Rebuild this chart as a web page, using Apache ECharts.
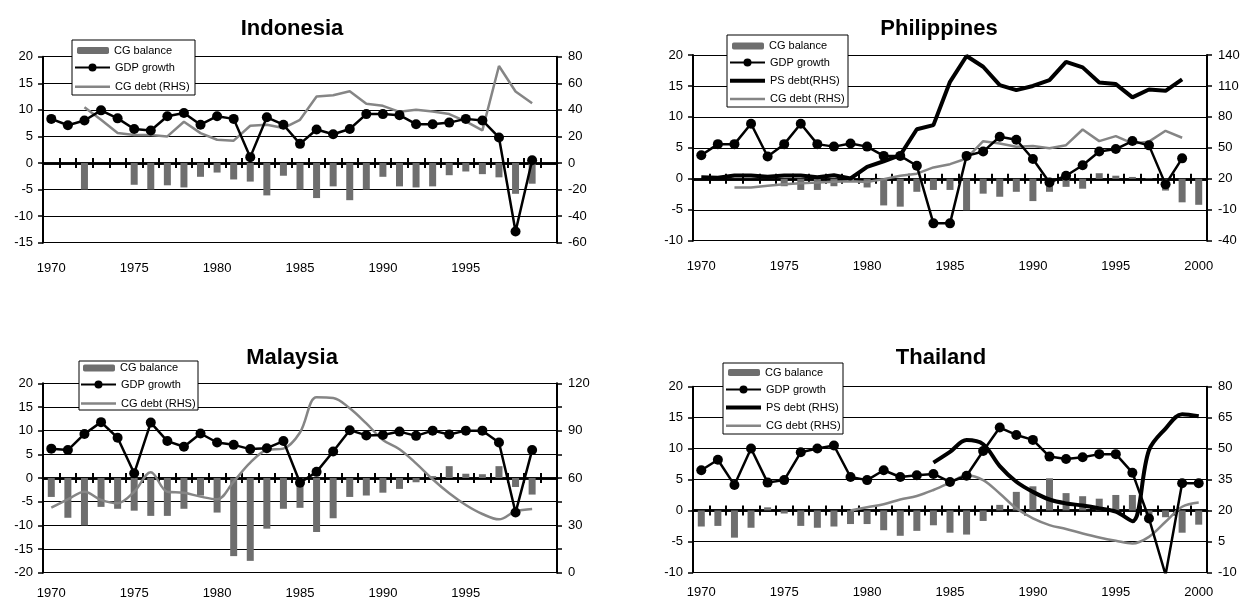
<!DOCTYPE html>
<html>
<head>
<meta charset="utf-8">
<script src="https://cdn.jsdelivr.net/npm/echarts@6/dist/echarts.min.js"></script>
<style>
  html, body { margin: 0; padding: 0; background: #fff; }
  #chart { width: 1243px; height: 600px; }
</style>
</head>
<body>
<div id="chart"></div>
<script>
// Years on the category axis
const years = ['1970','1971','1972','1973','1974','1975','1976','1977','1978','1979',
               '1980','1981','1982','1983','1984','1985','1986','1987','1988','1989',
               '1990','1991','1992','1993','1994','1995','1996','1997','1998','1999','2000'];

// Indonesia (% of GDP / % growth)
const idnBalance = [null,null,-5.0,null,null, -4.1,-5.0,-4.2,-4.6,-2.6, -1.8,-3.1,-3.5,-6.1,-2.4,
                    -5.0,-6.6,-4.4,-7.0,-5.0, -2.6,-4.4,-4.6,-4.4,-2.3, -1.6,-2.1,-2.7,-5.8,-3.9, null];
const idnGdp     = [8.3,7.1,8.0,9.9,8.4, 6.4,6.1,8.8,9.4,7.2, 8.8,8.3,1.1,8.6,7.2,
                    3.6,6.3,5.4,6.4,9.2, 9.2,9.0,7.3,7.3,7.6, 8.3,8.0,4.8,-12.9,0.5, null];
const idnCgDebt  = [null,null,42,32.5,22.5, 21,21,20,31,22.5, 17.5,16.8,28,28.8,26.3,
                    32.5,50,51,54,44.5, 43,38.5,40,38.8,36.8, 31.3,24.5,73,53.8,45, null];

// Philippines
const phlBalance = [null,null,null,null,null, -1.2,-1.8,-1.8,-1.2,-0.5, -1.4,-4.3,-4.5,-2.1,-1.8,
                    -1.8,-5.1,-2.4,-2.9,-2.1, -3.6,-2.1,-1.3,-1.6,0.9, 0.5,0.3,0.1,-1.9,-3.8, -4.2];
const phlGdp     = [3.8,5.6,5.6,8.9,3.6, 5.6,8.9,5.6,5.2,5.7, 5.2,3.7,3.7,2.1,-7.2,
                    -7.2,3.7,4.4,6.8,6.3, 3.2,-0.6,0.5,2.2,4.4, 4.8,6.1,5.4,-0.9,3.3, null];
const phlPsDebt  = [21.6,21,23.2,23.2,22, 23.2,23.2,21.6,23.5,20.3, 31.6,37,43,68,72,
                    114,139,128.6,110.8,106, 110,115.7,133.4,128,113.4, 111.8,98.9,106.6,105.3,116.3, null];
const phlCgDebt  = [null,null,11.6,11.6,13.2, 14.8,15.8,16.4,17.1,17.7, 17,19.7,23,25,31,
                    34.2,39.7,56.5,54.3,51, 51.7,49.7,52.6,67.8,56.5, 61.4,54.3,56,66.5,59.8, null];

// Malaysia
const mysBalance = [-4.0,-8.4,-10.0,-6.1,-6.5, -6.9,-8.0,-8.0,-6.5,-3.7, -7.3,-16.5,-17.5,-10.7,-6.5,
                    -6.3,-11.4,-8.5,-4.0,-3.7, -3.1,-2.3,-0.9,0.4,2.5, 0.9,0.8,2.5,-1.9,-3.5, null];
const mysGdp     = [6.2,5.9,9.3,11.8,8.5, 1.0,11.7,7.8,6.6,9.4, 7.5,7.0,6.1,6.3,7.8,
                    -1.0,1.3,5.6,10.1,9.0, 9.1,9.8,8.9,10.0,9.2, 10.0,10.0,7.5,-7.3,5.9, null];
const mysCgDebt  = [41.2,46.5,51.3,46.1,44, 51.3,63.6,51.3,50.7,48.2, 46.5,57.7,69.7,77.7,78.6,
                    88.8,111.1,110.7,104.2,94.6, 84.1,78.2,69.3,59.2,50.3, 42.9,37.2,33.8,38.9,40.4, null];

// Thailand
const thaBalance = [-2.6,-2.5,-4.4,-2.8,0.5, -0.5,-2.5,-2.8,-2.6,-2.2, -2.2,-3.2,-4.1,-3.3,-2.4,
                    -3.6,-3.9,-1.7,0.9,3.0, 3.9,5.2,2.8,2.3,1.9, 2.5,2.5,-0.9,-1.1,-3.6, -2.3];
const thaGdp     = [6.5,8.2,4.1,10.0,4.5, 4.9,9.4,10.0,10.5,5.4, 4.9,6.5,5.4,5.7,5.9,
                    4.6,5.6,9.6,13.4,12.2, 11.4,8.7,8.3,8.6,9.1, 9.1,6.1,-1.3,-10.4,4.4, 4.4];
const thaPsDebt  = [null,null,null,null,null, null,null,null,null,null, null,null,null,null,43.2,
                    48.4,54.1,52.1,41.5,33.9, 29.0,25.3,23.4,22.4,21, 19.4,14.8,49.2,59.7,66.7, 65.7];
const thaCgDebt  = [null,null,null,null,null, null,null,null,null,20, 21.5,23,25.3,27,29.9,
                    33.4,37.1,34.7,28.2,21, 16.1,12.9,11,8.85,6.9, 5.3,4.0,7.2,14.5,21.8, 23.9];

const FONT = '"Liberation Sans", Arial, Helvetica, sans-serif';
const BAR_GRAY = '#6e6e6e';
const LINE_GRAY = '#858585';

// Plain line legend icons (no marker); the zero-length moves pin the icon box height
const ICON_THICK = 'path://M0,0L0,0M0,10L0,10M0,3L35,3L35,7L0,7Z';
const ICON_THIN  = 'path://M0,0L0,0M0,10L0,10M0,3.75L35,3.75L35,6.25L0,6.25Z';

const panels = [
  {
    title: 'Indonesia', titleX: 292, titleY: 18,
    grid: { left: 43, top: 56.7, width: 514, height: 186 },
    leftAxis: { min: -15, max: 20, interval: 5 },
    rightAxis: { min: -60, max: 80, interval: 20, step: 20 },
    showLastLabel: false, labelMargin: 19,
    box: [72, 40, 123, 55], legendLeft: 74, barTop: 45, lineTop: 62, lineGap: 8.2,
    series: [
      { name: 'CG balance', kind: 'bar', data: idnBalance },
      { name: 'GDP growth', kind: 'gdp', data: idnGdp },
      { name: 'CG debt (RHS)', kind: 'cg', data: idnCgDebt, smooth: false }
    ]
  },
  {
    title: 'Philippines', titleX: 939, titleY: 18,
    grid: { left: 693, top: 55, width: 514, height: 185.7 },
    leftAxis: { min: -10, max: 20, interval: 5 },
    rightAxis: { min: -40, max: 140, interval: 30, step: 30 },
    showLastLabel: true, labelMargin: 19,
    box: [727, 35, 121, 72], legendLeft: 729, barTop: 40.5, lineTop: 57, lineGap: 7.3,
    series: [
      { name: 'CG balance', kind: 'bar', data: phlBalance },
      { name: 'GDP growth', kind: 'gdp', data: phlGdp },
      { name: 'PS debt(RHS)', kind: 'ps', data: phlPsDebt, smooth: false },
      { name: 'CG debt (RHS)', kind: 'cg', data: phlCgDebt, smooth: false }
    ]
  },
  {
    title: 'Malaysia', titleX: 292, titleY: 347,
    grid: { left: 43, top: 383.3, width: 514, height: 189.4 },
    leftAxis: { min: -20, max: 20, interval: 5 },
    rightAxis: { min: 0, max: 120, interval: 15, step: 30 },
    showLastLabel: false, labelMargin: 14,
    box: [79, 361, 119, 49], legendLeft: 80, barTop: 362.5, lineTop: 379, lineGap: 8.1,
    series: [
      { name: 'CG balance', kind: 'bar', data: mysBalance },
      { name: 'GDP growth', kind: 'gdp', data: mysGdp },
      { name: 'CG debt (RHS)', kind: 'cg', data: mysCgDebt, smooth: 0.35 }
    ]
  },
  {
    title: 'Thailand', titleX: 941, titleY: 347,
    grid: { left: 693, top: 386.7, width: 514, height: 185.6 },
    leftAxis: { min: -10, max: 20, interval: 5 },
    rightAxis: { min: -10, max: 80, interval: 15, step: 15 },
    showLastLabel: true, labelMargin: 14,
    box: [723, 363, 120, 71], legendLeft: 725, barTop: 367, lineTop: 384, lineGap: 7.1,
    series: [
      { name: 'CG balance', kind: 'bar', data: thaBalance },
      { name: 'GDP growth', kind: 'gdp', data: thaGdp },
      { name: 'PS debt (RHS)', kind: 'ps', data: thaPsDebt, smooth: 0.35 },
      { name: 'CG debt (RHS)', kind: 'cg', data: thaCgDebt, smooth: 0.35 }
    ]
  }
];

const option = {
  animation: false,
  backgroundColor: '#fff',
  textStyle: { fontFamily: FONT },
  title: [], grid: [], xAxis: [], yAxis: [], series: [], legend: [], graphic: []
};

const axisText = { color: '#000', fontSize: 13, fontFamily: FONT };

panels.forEach((p, i) => {
  const yL = 2 * i, yR = 2 * i + 1;
  const xLab = 3 * i;

  option.title.push({
    text: p.title, left: p.titleX, top: p.titleY, textAlign: 'center', padding: 0,
    textStyle: { fontSize: 22, fontWeight: 'bold', color: '#000', fontFamily: FONT }
  });

  option.grid.push(Object.assign({ containLabel: false, outerBoundsMode: 'none' }, p.grid));

  // Year labels along the bottom of the plot
  option.xAxis.push({
    type: 'category', gridIndex: i, data: years, position: 'bottom', boundaryGap: true,
    axisLine: { show: false, onZero: false },
    axisTick: { show: false },
    splitLine: { show: false },
    axisLabel: Object.assign({
      margin: p.labelMargin,
      interval: (idx) => idx % 5 === 0 && (p.showLastLabel || idx < years.length - 1)
    }, axisText)
  });
  // Zero line with tick marks crossing it (one axis ticks down, the other up)
  ['bottom', 'top'].forEach((pos) => {
    option.xAxis.push({
      type: 'category', gridIndex: i, data: years, position: pos, boundaryGap: true,
      axisLine: { show: true, onZero: true, onZeroAxisIndex: yL, lineStyle: { color: '#000', width: 2.5 } },
      axisTick: { show: true, interval: 0, length: 5, lineStyle: { color: '#000', width: 2 } },
      axisLabel: { show: false },
      splitLine: { show: false }
    });
  });

  option.yAxis.push({
    type: 'value', gridIndex: i, position: 'left',
    min: p.leftAxis.min, max: p.leftAxis.max, interval: p.leftAxis.interval,
    axisLine: { show: true, onZero: false, lineStyle: { color: '#000', width: 2 } },
    axisTick: { show: true, length: 5, lineStyle: { color: '#000', width: 1.5 } },
    axisLabel: Object.assign({ margin: 10 }, axisText),
    splitLine: { show: true, lineStyle: { color: '#000', width: 1 } }
  });
  option.yAxis.push({
    type: 'value', gridIndex: i, position: 'right',
    min: p.rightAxis.min, max: p.rightAxis.max, interval: p.rightAxis.interval,
    axisLine: { show: true, onZero: false, lineStyle: { color: '#000', width: 2 } },
    axisTick: { show: true, length: 5, lineStyle: { color: '#000', width: 1.5 } },
    axisLabel: Object.assign({
      margin: 11,
      formatter: (v) => ((v - p.rightAxis.min) % p.rightAxis.step === 0 ? String(v) : '')
    }, axisText),
    splitLine: { show: false }
  });

  p.series.forEach((s) => {
    if (s.kind === 'bar') {
      option.series.push({
        name: s.name, type: 'bar', xAxisIndex: xLab, yAxisIndex: yL, data: s.data,
        barWidth: 7, itemStyle: { color: BAR_GRAY }, z: 1
      });
    } else if (s.kind === 'gdp') {
      option.series.push({
        name: s.name, type: 'line', xAxisIndex: xLab, yAxisIndex: yL, data: s.data,
        symbol: 'circle', symbolSize: 10, showSymbol: true,
        lineStyle: { color: '#000', width: 2.5 }, itemStyle: { color: '#000' }, z: 5
      });
    } else if (s.kind === 'ps') {
      option.series.push({
        name: s.name, type: 'line', xAxisIndex: xLab, yAxisIndex: yR, data: s.data,
        symbol: 'none', smooth: s.smooth,
        lineStyle: { color: '#000', width: 4 }, itemStyle: { color: '#000' }, z: 4
      });
    } else {
      option.series.push({
        name: s.name, type: 'line', xAxisIndex: xLab, yAxisIndex: yR, data: s.data,
        symbol: 'none', smooth: s.smooth,
        lineStyle: { color: LINE_GRAY, width: 2.5 }, itemStyle: { color: LINE_GRAY }, z: 3
      });
    }
  });

  // Legend frame
  option.graphic.push({
    type: 'rect', z: 3, silent: true,
    shape: { x: p.box[0], y: p.box[1], width: p.box[2], height: p.box[3] },
    style: { fill: '#fff', stroke: '#000', lineWidth: 1 }
  });
  const legendText = { color: '#000', fontSize: 11, fontFamily: FONT };
  option.legend.push({
    orient: 'vertical', left: p.legendLeft + 3, top: p.barTop, padding: 0,
    itemWidth: 32, itemHeight: 7, selectedMode: false, z: 4,
    itemStyle: { borderWidth: 0 },
    data: p.series.filter(s => s.kind === 'bar').map(s => s.name),
    textStyle: legendText
  });
  option.legend.push({
    orient: 'vertical', left: p.legendLeft, top: p.lineTop, padding: 0,
    itemWidth: 35, itemHeight: 10, itemGap: p.lineGap, selectedMode: false, z: 4,
    itemStyle: { borderWidth: 0 },
    data: p.series.filter(s => s.kind !== 'bar').map(s => {
      if (s.kind === 'ps') return { name: s.name, icon: ICON_THICK };
      if (s.kind === 'cg') return { name: s.name, icon: ICON_THIN };
      return { name: s.name };
    }),
    textStyle: legendText
  });
});

const chart = echarts.init(document.getElementById('chart'), null, { renderer: 'canvas' });
chart.setOption(option);
</script>
</body>
</html>
